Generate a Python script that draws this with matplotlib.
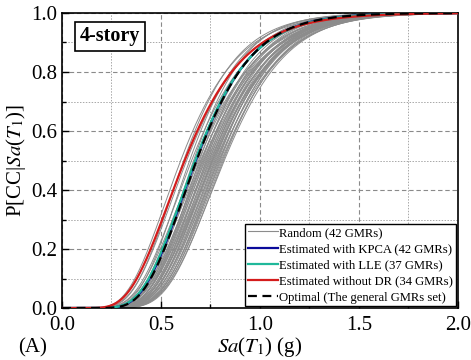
import math
import numpy as np
import matplotlib
matplotlib.use("Agg")
import matplotlib.pyplot as plt
from matplotlib.ticker import MultipleLocator, FormatStrFormatter
from matplotlib.lines import Line2D

plt.rcParams['font.family'] = ['Liberation Serif', 'DejaVu Serif']
plt.rcParams['mathtext.fontset'] = 'stix'

# Lognormal fragility parameters (median Sa in g, dispersion beta)
random_medians = [0.600, 0.615, 0.630, 0.645, 0.655, 0.665, 0.672, 0.678, 0.684, 0.690,
                  0.695, 0.700, 0.704, 0.708, 0.712, 0.716, 0.720, 0.724, 0.728, 0.732,
                  0.736, 0.740, 0.744, 0.748, 0.752, 0.756, 0.760, 0.764, 0.768, 0.772,
                  0.776, 0.780, 0.784, 0.788, 0.792, 0.796, 0.800, 0.805, 0.810, 0.815,
                  0.820, 0.760]
random_betas = [0.38, 0.35, 0.37, 0.33, 0.36, 0.31, 0.34, 0.37, 0.32, 0.35,
                0.30, 0.36, 0.33, 0.31, 0.35, 0.34, 0.32, 0.34, 0.30, 0.33,
                0.32, 0.34, 0.31, 0.33, 0.32, 0.30, 0.31, 0.33, 0.32, 0.30,
                0.32, 0.31, 0.30, 0.29, 0.32, 0.30, 0.29, 0.31, 0.30, 0.29,
                0.30, 0.33]
kpca_median, kpca_beta = 0.676, 0.33
lle_median, lle_beta = 0.673, 0.335
nodr_median, nodr_beta = 0.620, 0.385
optimal_median, optimal_beta = 0.680, 0.325

legend_labels = ["Random (42 GMRs)", "Estimated with KPCA (42 GMRs)",
                 "Estimated with LLE (37 GMRs)", "Estimated without DR (34 GMRs)",
                 "Optimal (The general GMRs set)"]

x = np.linspace(0.001, 2.0, 800)
_erf = np.vectorize(math.erf)

def frag(med, beta):
    return 0.5 * (1.0 + _erf(np.log(x / med) / (beta * math.sqrt(2.0))))

fig = plt.figure(figsize=(4.71, 3.60), dpi=100)
ax = fig.add_axes([0.1316, 0.1444, 0.8402, 0.8195])

for m, b in zip(random_medians, random_betas):
    ax.plot(x, frag(m, b), color='#8c8c8c', lw=0.7, zorder=2)
ax.plot(x, frag(kpca_median, kpca_beta), color='#0a0a9a', lw=1.6, zorder=3)
ax.plot(x, frag(lle_median, lle_beta), color='#1fb89a', lw=1.6, zorder=4)
ax.plot(x, frag(nodr_median, nodr_beta), color='#d41c1c', lw=1.6, zorder=5)
ax.plot(x, frag(optimal_median, optimal_beta), color='black', lw=1.6,
        ls=(0, (4, 2.5)), zorder=6)

ax.set_xlim(0, 2.0)
ax.set_ylim(0, 1.0)
ax.xaxis.set_major_locator(MultipleLocator(0.5))
ax.xaxis.set_minor_locator(MultipleLocator(0.25))
ax.yaxis.set_major_locator(MultipleLocator(0.2))
ax.yaxis.set_minor_locator(MultipleLocator(0.1))
ax.xaxis.set_major_formatter(FormatStrFormatter('%.1f'))
ax.yaxis.set_major_formatter(FormatStrFormatter('%.1f'))
ax.tick_params(which='both', direction='in', top=False, right=False, labelsize=15)
ax.tick_params(which='major', length=5, width=1)
ax.tick_params(axis='x', which='major', pad=6)
ax.tick_params(which='minor', length=3, width=1)
ax.grid(which='major', color='#8a8a8a', ls=(0, (4, 2.5)), lw=0.8, zorder=0)
ax.grid(which='minor', color='#a8a8a8', ls=(0, (1.5, 1.5)), lw=0.7, zorder=0)
ax.set_axisbelow(True)
for s in ax.spines.values():
    s.set_linewidth(1.2)

ax.set_xlabel(r'$Sa$($T_1$) (g)', fontsize=15, labelpad=0)
ax.set_ylabel(r'P[CC|$Sa$($T_1$)]', fontsize=15, labelpad=2)

ax.text(0.045, 0.955, '4-story', transform=ax.transAxes, fontsize=14.5,
        fontweight='bold', va='top', ha='left',
        bbox=dict(boxstyle='square,pad=0.22', fc='white', ec='black', lw=1.2))

fig.text(0.038, 0.008, '(A)', fontsize=15, ha='left', va='bottom')

handles = [Line2D([], [], color='#8c8c8c', lw=0.8),
           Line2D([], [], color='#0a0a9a', lw=1.6),
           Line2D([], [], color='#1fb89a', lw=1.6),
           Line2D([], [], color='#d41c1c', lw=1.6),
           Line2D([], [], color='black', lw=1.6, ls=(0, (4, 2.5)))]
leg = ax.legend(handles, legend_labels, loc='lower right', bbox_to_anchor=(1.0, 0.0),
                fontsize=9.1, frameon=True, fancybox=False, edgecolor='black',
                framealpha=1, borderpad=0.2, labelspacing=0.33, handlelength=2.4,
                handletextpad=0.1, borderaxespad=0.15)
leg.get_frame().set_linewidth(1.0)

fig.savefig('out.png', dpi=100)
